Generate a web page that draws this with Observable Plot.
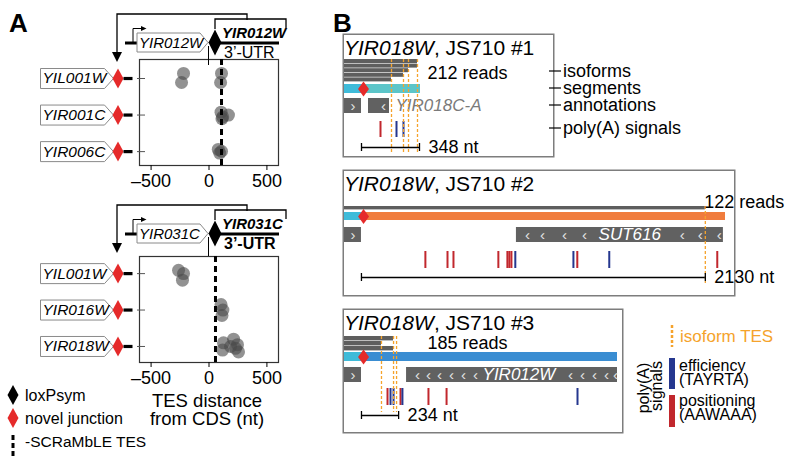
<!DOCTYPE html>
<html><head><meta charset="utf-8">
<script src="https://cdn.jsdelivr.net/npm/d3@7"></script>
<script src="https://cdn.jsdelivr.net/npm/@observablehq/plot@0.6"></script>
<style>
html,body{margin:0;padding:0;background:#fff}
#root{position:relative;width:800px;height:466px;overflow:hidden;font-family:"Liberation Sans",Arial,Helvetica,sans-serif}
#root svg{overflow:visible;position:absolute}
</style></head><body><div id="root"></div>
<script>
// ---------------- DATA ----------------
// Panel A, top (YIR012W 3'-UTR junction)
const aTopRows = ["YIL001W", "YIR001C", "YIR006C"];
const aTopGene = ["YIL001W","YIL001W","YIL001W","YIL001W","YIR001C","YIR001C","YIR001C","YIR001C","YIR006C","YIR006C","YIR006C"];
const aTopTES  = [-220, -237, 108, 100, 104, 118, 168, 112, 80, 92, 108];
const aTopRep  = [-0.14, 0.11, -0.14, 0.11, -0.08, 0.05, 0.0, 0.1, -0.06, 0.04, -0.01];
const aTopPreTES = 108;
// Panel A, bottom (YIR031C 3'-UTR junction)
const aBotRows = ["YIL001W", "YIR016W", "YIR018W"];
const aBotGene = ["YIL001W","YIL001W","YIL001W","YIR016W","YIR016W","YIR016W","YIR018W","YIR018W","YIR018W","YIR018W","YIR018W","YIR018W","YIR018W"];
const aBotTES  = [-263, -220, -229, 104, 120, 112, 125, 117, 212, 229, 246, 186, 255];
const aBotRep  = [-0.09, 0.0, 0.18, -0.15, 0.0, 0.15, -0.1, 0.1, -0.2, 0.05, -0.05, 0.0, 0.15];
const aBotPreTES = 56;
const aTicks = [-500, 0, 500];

// Panel B, box 1
const b1IsoformEnds = [438, 438, 384, 354, 282];
const b1SegBounds = [0, 114, 456];
const b1Junction = 114;
const b1AnnStart = [0, 144], b1AnnEnd = [102, 270], b1AnnStrand = ["+", "-"];
const b1AnnName = "YIR018C-A";
const b1Chevrons = [51, 234];
const b1Efficiency = [312, 354];
const b1Positioning = [216];
const b1TES = [282, 354, 384, 438];
const b1ScaleNt = 348;
const b1Reads = 212;
// Panel B, box 2
const b2IsoformEnds = [2235];
const b2SegBounds = [0, 118, 2360];
const b2Junction = 118;
const b2AnnStart = [0, 1065], b2AnnEnd = [105, 2347], b2AnnStrand = ["+", "-"];
const b2AnnName = "SUT616";
const b2Chevrons = [52, 1133, 1226, 1362, 1486, 2092, 2204, 2322];
const b2Efficiency = [1058, 1418, 1640];
const b2Positioning = [501, 638, 675, 953, 1009, 1021, 1034, 1442, 2309];
const b2TES = [2235];
const b2ScaleNt = 2130;
const b2Reads = 122;
// Panel B, box 3
const b3IsoformEnds = [309, 233, 309];
const b3SegBounds = [0, 120, 1720];
const b3Junction = 120;
const b3AnnStart = [0, 391], b3AnnEnd = [107, 1720], b3AnnStrand = ["+", "-"];
const b3AnnName = "YIR012W";
const b3Chevrons = [53, 460, 529, 599, 674, 750, 825, 1424, 1499, 1575, 1651, 1707];
const b3Efficiency = [290, 309, 365, 1468];
const b3Positioning = [271, 353, 529, 643];
const b3TES = [233, 309, 328];
const b3ScaleNt = 234;
const b3Reads = 185;

// ---------------- DRAWING ----------------
const FONT = '"Liberation Sans", Arial, Helvetica, sans-serif';
const root = document.getElementById("root");
function put(node, left, top) { node.style.left = left + "px"; node.style.top = top + "px"; root.appendChild(node); return node; }
const shape = pts => ({draw(ctx) { ctx.moveTo(pts[0][0], pts[0][1]); for (let i = 1; i < pts.length; i++) ctx.lineTo(pts[i][0], pts[i][1]); ctx.closePath(); }});
const diamond = (w, h) => shape([[0, -h/2], [w/2, 0], [0, h/2], [-w/2, 0]]);
const pentagon = shape([[-36.5, -10], [27.5, -10], [36.5, 0], [27.5, 10], [-36.5, 10]]);
const stub = shape([[0, -1.6], [9, -1.6], [9, 1.6], [0, 1.6]]);
const RED = "#e52a2a";

function scatterA(rows, genes, tes, reps, preTES, yDomain, mt, mb) {
  const idx = rows.map((_, i) => i);
  const pts = tes.map((v, i) => ({nt: v, y: rows.indexOf(genes[i]) + reps[i]}));
  return Plot.plot({
    width: 300, height: 200, marginLeft: 139, marginRight: 22, marginTop: mt, marginBottom: mb,
    x: {domain: [-600, 600]}, y: {domain: yDomain, reverse: true},
    style: {background: "transparent", fontFamily: FONT, fontSize: "18px", color: "#000"},
    marks: [
      Plot.frame({stroke: "#333", strokeWidth: 1.2}),
      Plot.axisX({ticks: aTicks, tickSize: 5, tickPadding: 4, fontSize: 18, label: null,
                  tickFormat: d => d < 0 ? "\u2013" + (-d) : String(d)}),
      Plot.axisY({ticks: idx, tickSize: 8, dx: 6, tickFormat: () => "", label: null, stroke: "#555"}),
      Plot.dot(pts, {x: "nt", y: "y", r: 6.5, fill: "#4a4a4a", fillOpacity: 0.6, stroke: "none"}),
      Plot.ruleX([preTES], {stroke: "#000", strokeWidth: 3, strokeDasharray: "6,4"}),
      Plot.dot(idx, {y: d => d, frameAnchor: "left", dx: -62.5, symbol: pentagon, r: 10, fill: "#fff", stroke: "#8a8a8a", strokeWidth: 1}),
      Plot.text(rows, {y: (d, i) => i, frameAnchor: "left", dx: -97, text: d => d, textAnchor: "start", fontStyle: "italic", fontSize: 15.5}),
      Plot.dot(idx, {y: d => d, frameAnchor: "left", dx: -21.5, symbol: diamond(11, 20), r: 10, fill: RED, stroke: "none"}),
      Plot.dot(idx, {y: d => d, frameAnchor: "left", dx: -16, symbol: stub, r: 5, fill: "#000", stroke: "none"})
    ]
  });
}

const topA = put(scatterA(aTopRows, aTopGene, aTopTES, aTopRep, aTopPreTES, [-0.52, 2.38], 59, 35), 0, 0);
const botA = put(scatterA(aBotRows, aBotGene, aBotTES, aBotRep, aBotPreTES, [-0.47, 2.44], 66, 28), 0, 190);

// Panel B track boxes
function trackBox(c) {
  const L = c.layout;
  const isoH = (L.iso[1] - L.iso[0]) / c.isoforms.length;
  const segs = c.segBounds.slice(0, -1).map((s, i) => ({s, e: c.segBounds[i + 1], col: c.segColors[i]}));
  const ann = c.annStart.map((s, i) => ({s, e: c.annEnd[i], strand: c.annStrand[i]}));
  const chev = c.chevrons.map(p => ({p, strand: (ann.find(a => p >= a.s && p <= a.e) || ann[0]).strand}));
  const barStart = c.annEnd[0], barEnd = c.annEnd[0] + c.scaleNt;
  const annMid = (L.ann[0] + L.ann[1]) / 2, segMid = (L.seg[0] + L.seg[1]) / 2;
  return Plot.plot({
    width: c.w, height: c.h, margin: 0,
    x: {domain: [0, c.span], range: [2, c.trackEnd], axis: null},
    y: {domain: [0, c.h], range: [0, c.h], axis: null},
    color: {type: "identity"},
    style: {background: "transparent", fontFamily: FONT, fontSize: "18px", color: "#000"},
    marks: [
      Plot.frame({stroke: "#7d7d7d", strokeWidth: 1.5, inset: 0.75}),
      Plot.rect(c.isoforms, {x1: 0, x2: d => d, y1: (d, i) => L.iso[0] + i * isoH, y2: (d, i) => L.iso[0] + (i + 1) * isoH - 0.6, fill: "#5e5e5e"}),
      Plot.rect(segs, {x1: "s", x2: "e", y1: L.seg[0], y2: L.seg[1], fill: "col"}),
      Plot.dot([c.junction], {x: d => d, y: segMid, symbol: diamond(11, 15), r: 8, fill: RED, stroke: "none"}),
      Plot.rect(ann, {x1: "s", x2: "e", y1: L.ann[0], y2: L.ann[1], fill: "#616161"}),
      Plot.text(chev, {x: "p", y: annMid, text: d => d.strand === "+" ? "\u203A" : "\u2039", fill: "#e4e4e4", fontSize: 15}),
      Plot.text([c.annName], {x: c.annLabel.x, y: annMid, text: d => d, textAnchor: c.annLabel.anchor, fill: c.annLabel.fill, fontStyle: "italic", fontSize: 17}),
      Plot.ruleX(c.positioning, {y1: L.pa[0], y2: L.pa[1], stroke: "#c1272d", strokeWidth: 2}),
      Plot.ruleX(c.efficiency, {y1: L.pa[0], y2: L.pa[1], stroke: "#25378f", strokeWidth: 2}),
      Plot.ruleX(c.tes, {y1: L.iso[0], y2: L.tesEnd, stroke: "#f5a32c", strokeWidth: 1.3, strokeDasharray: "3,2"}),
      Plot.ruleY([L.bar], {x1: barStart, x2: barEnd, stroke: "#000", strokeWidth: 1.3}),
      Plot.ruleX([barStart, barEnd], {y1: L.bar - 4, y2: L.bar + 4, stroke: "#000", strokeWidth: 1.3}),
      Plot.text([c.scaleNt], {x: barEnd, y: L.bar, dx: 9, text: d => `${d} nt`, textAnchor: "start", fontSize: 18}),
      Plot.text([c.reads], {x: c.readsPos[0], y: c.readsPos[1], text: d => `${d} reads`, textAnchor: "start", fontSize: 18})
    ]
  });
}

const cyan = "#3fbbd9";
put(trackBox({w: 212, h: 124, span: 456, trackEnd: 78,
  layout: {iso: [26, 49], seg: [51, 60], ann: [65, 80], pa: [88, 104], bar: 114, tesEnd: 121},
  isoforms: b1IsoformEnds, segBounds: b1SegBounds, segColors: [cyan, "#5cc5c9"], junction: b1Junction,
  annStart: b1AnnStart, annEnd: b1AnnEnd, annStrand: b1AnnStrand, annName: b1AnnName,
  annLabel: {x: 306, anchor: "start", fill: "#7a7a7a"}, chevrons: b1Chevrons,
  efficiency: b1Efficiency, positioning: b1Positioning, tes: b1TES, scaleNt: b1ScaleNt,
  reads: b1Reads, readsPos: [498, 40]}), 342, 33);

put(trackBox({w: 393, h: 127, span: 2360, trackEnd: 383,
  layout: {iso: [37, 41], seg: [43, 51], ann: [58, 73], pa: [82, 99], bar: 108, tesEnd: 114},
  isoforms: b2IsoformEnds, segBounds: b2SegBounds, segColors: [cyan, "#f07c3d"], junction: b2Junction,
  annStart: b2AnnStart, annEnd: b2AnnEnd, annStrand: b2AnnStrand, annName: b2AnnName,
  annLabel: {x: 1767, anchor: "middle", fill: "#fff"}, chevrons: b2Chevrons,
  efficiency: b2Efficiency, positioning: b2Positioning, tes: b2TES, scaleNt: b2ScaleNt,
  reads: b2Reads, readsPos: [2228, 33]}), 342, 169);

put(trackBox({w: 281, h: 125, span: 1720, trackEnd: 275,
  layout: {iso: [28, 43], seg: [44, 53], ann: [59, 74], pa: [80, 97], bar: 107, tesEnd: 104},
  isoforms: b3IsoformEnds, segBounds: b3SegBounds, segColors: [cyan, "#3a8dd2"], junction: b3Junction,
  annStart: b3AnnStart, annEnd: b3AnnEnd, annStrand: b3AnnStrand, annName: b3AnnName,
  annLabel: {x: 1099, anchor: "middle", fill: "#fff"}, chevrons: b3Chevrons,
  efficiency: b3Efficiency, positioning: b3Positioning, tes: b3TES, scaleNt: b3ScaleNt,
  reads: b3Reads, readsPos: [523, 35]}), 342, 308);

// ---------------- OVERLAY (schematics, labels, legends) ----------------
const svg = d3.select(root).append("svg").attr("width", 800).attr("height", 466)
  .style("left", "0px").style("top", "0px").style("font-family", FONT).style("pointer-events", "none");

svg.append("text").attr("x", 9).attr("y", 32).attr("font-size", 26).attr("font-weight", "bold").text("A");
svg.append("text").attr("x", 333).attr("y", 32).attr("font-size", 26).attr("font-weight", "bold").text("B");

function schematic(dy, gene, boldUtr, x0) {
  const g = svg.append("g").attr("transform", `translate(0,${dy})`);
  const line = (d, w = 1.3) => g.append("path").attr("d", d).attr("fill", "none").attr("stroke", "#000").attr("stroke-width", w);
  const fill = (d, f = "#000") => g.append("path").attr("d", d).attr("fill", f);
  line("M117,54V14H247V20");
  fill("M112,52L122,52L117,62Z");
  line("M215,29V19H286V28");
  line("M125,43H138", 3);
  line("M133,43V28.5H142", 1);
  fill("M141,26L146.5,28.5L141,31Z");
  g.append("path").attr("d", "M137,33H200L208,42.5L200,52H137Z").attr("fill", "#fff").attr("stroke", "#8a8a8a");
  g.append("text").attr("x", 139).attr("y", 48).attr("font-style", "italic").attr("font-size", 15).text(gene);
  line("M212,43H279", 3);
  line(`M${x0},46V65`, 1);
  fill("M215,29.5L221.5,42.5L215,55.5L208.5,42.5Z");
  g.append("text").attr("x", 222).attr("y", 38).attr("font-style", "italic").attr("font-weight", "bold").attr("font-size", 15).text(gene);
  g.append("text").attr("x", 224).attr("y", 58).attr("font-size", 16).attr("font-weight", boldUtr ? "bold" : "normal").text("3\u2019-UTR");
}
schematic(0, "YIR012W", false, topA.scale("x").apply(0));
schematic(191, "YIR031C", true, botA.scale("x").apply(0));

// Panel A axis title
svg.append("text").attr("x", 207).attr("y", 407).attr("text-anchor", "middle").attr("font-size", 18.5).text("TES distance");
svg.append("text").attr("x", 207).attr("y", 425).attr("text-anchor", "middle").attr("font-size", 18.5).text("from CDS (nt)");

// Panel A legend
svg.append("path").attr("d", "M13,385L18.5,395L13,405L7.5,395Z").attr("fill", "#000");
svg.append("text").attr("x", 25).attr("y", 401).attr("font-size", 16).text("loxPsym");
svg.append("path").attr("d", "M13,408L18.5,418L13,428L7.5,418Z").attr("fill", RED);
svg.append("text").attr("x", 25).attr("y", 424).attr("font-size", 16).text("novel junction");
svg.append("path").attr("d", "M13,435V458").attr("stroke", "#000").attr("stroke-width", 3).attr("stroke-dasharray", "5,3");
svg.append("text").attr("x", 25).attr("y", 447).attr("font-size", 15.5).text("-SCRaMbLE TES");

// Box titles
[[33, "#1"], [169, "#2"], [308, "#3"]].forEach(([top, n]) => {
  const t = svg.append("text").attr("x", 344).attr("y", top + 22).attr("font-size", 21);
  t.append("tspan").attr("font-style", "italic").text("YIR018W");
  t.append("tspan").text(`, JS710 ${n}`);
});

// Box 1 track labels
[[71, "isoforms"], [88, "segments"], [105, "annotations"], [128, "poly(A) signals"]].forEach(([y, s]) => {
  svg.append("path").attr("d", `M549,${y}H561`).attr("stroke", "#000").attr("stroke-width", 1.2);
  svg.append("text").attr("x", 563).attr("y", y + 6).attr("font-size", 18).text(s);
});

// Box 3 legend
svg.append("path").attr("d", "M672,325V347").attr("stroke", "#f5a32c").attr("stroke-width", 2.5).attr("stroke-dasharray", "3,2");
svg.append("text").attr("x", 680).attr("y", 342).attr("font-size", 17).attr("fill", "#f5a32c").text("isoform TES");
svg.append("rect").attr("x", 669).attr("y", 358).attr("width", 6).attr("height", 31).attr("fill", "#25378f");
svg.append("rect").attr("x", 669).attr("y", 395).attr("width", 6).attr("height", 32).attr("fill", "#c1272d");
[[371, "efficiency"], [385, "(TAYRTA)"], [406, "positioning"], [420, "(AAWAAA)"]].forEach(([y, s]) =>
  svg.append("text").attr("x", 679).attr("y", y).attr("font-size", 16).text(s));
svg.append("text").attr("transform", "translate(649,388) rotate(-90)").attr("text-anchor", "middle").attr("font-size", 16).text("poly(A)");
svg.append("text").attr("transform", "translate(662,386) rotate(-90)").attr("text-anchor", "middle").attr("font-size", 16).text("signals");
</script></body></html>
